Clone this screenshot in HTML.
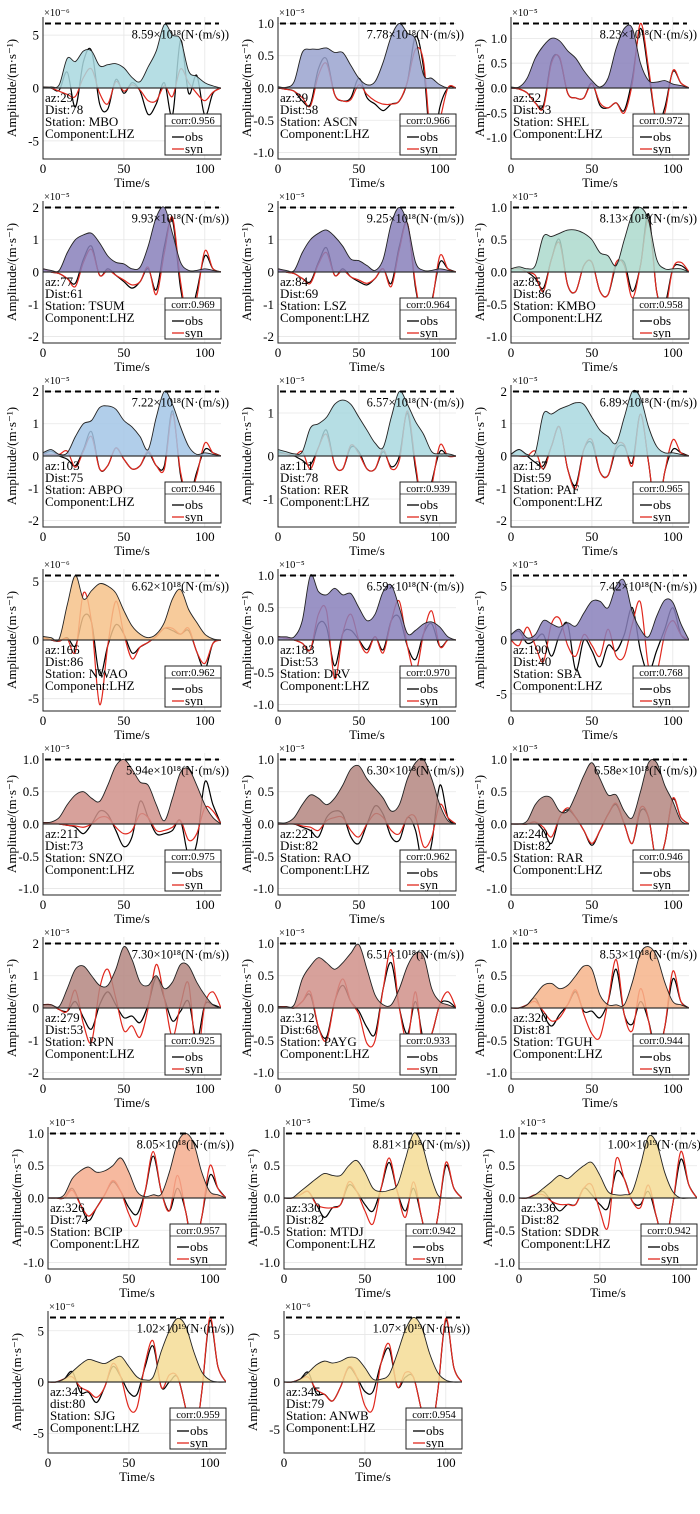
<!DOCTYPE html>
<html><head><meta charset="utf-8"><title>Waveform fits</title>
<style>
html,body{margin:0;padding:0;background:#fff;}
svg{display:block;font-family:"Liberation Serif",serif;}
</style></head>
<body>
<svg id="fig" width="700" height="1514" viewBox="0 0 700 1514" xmlns="http://www.w3.org/2000/svg"></svg>
<script>
const times=[0,5,10,15,20,25,30,35,40,45,50,55,60,65,70,75,80,85,90,95,100,105,110];
const stations=["MBO","ASCN","SHEL","TSUM","LSZ","KMBO","ABPO","RER","PAF","NWAO","DRV","SBA","SNZO","RAO","RAR","RPN","PAYG","TGUH","BCIP","MTDJ","SDDR","SJG","ANWB"];
const azimuths=[29,39,52,77,84,85,103,111,137,166,183,190,211,221,240,279,312,320,326,330,336,341,345];
const distances=[78,58,53,61,69,86,75,78,59,86,53,40,73,82,82,53,68,81,74,82,82,80,79];
const corrs=["0.956","0.966","0.972","0.969","0.964","0.958","0.946","0.939","0.965","0.962","0.970","0.768","0.975","0.962","0.946","0.925","0.933","0.944","0.957","0.942","0.942","0.959","0.954"];
const exponents=[-6,-5,-5,-5,-5,-5,-5,-5,-5,-6,-5,-5,-5,-5,-5,-5,-5,-5,-5,-5,-5,-6,-6];
const peaks=[6.1,1.0,1.3,2.0,2.0,1.0,2.0,1.5,2.0,5.5,1.0,6.0,1.0,1.0,1.0,2.0,1.0,1.0,1.0,1.0,1.0,6.3,6.8];
const momentMant=["8.59","7.78","8.23","9.93","9.25","8.13","7.22","6.57","6.89","6.62","6.59","7.42","5.94e","6.30","6.58e","7.30","6.51","8.53","8.05","8.81","1.00","1.02","1.07"];
const momentExp=[18,18,18,18,18,18,18,18,18,18,18,18,18,18,18,18,18,18,18,18,19,19,19];
const tickSets=[[-5,0,5],[-1,-0.5,0,0.5,1],[-1,-0.5,0,0.5,1],[-2,-1,0,1,2],[-2,-1,0,1,2],[-1,-0.5,0,0.5,1],[-2,-1,0,1,2],[-1,0,1],[-2,-1,0,1,2],[-5,0,5],[-1,-0.5,0,0.5,1],[-5,0,5],[-1,-0.5,0,0.5,1],[-1,-0.5,0,0.5,1],[-1,-0.5,0,0.5,1],[-2,-1,0,1,2],[-1,-0.5,0,0.5,1],[-1,-0.5,0,0.5,1],[-1,-0.5,0,0.5,1],[-1,-0.5,0,0.5,1],[-1,-0.5,0,0.5,1],[-5,0,5],[-5,0,5]];
const tickDecimals=[0,1,1,0,0,1,0,0,0,0,1,0,1,1,1,0,1,1,1,1,1,0,0];
const fillColors=["#a9d8df","#9aa3cf","#8880bb","#8880bb","#8880bb","#acd9cc","#a3c6e6","#a9d8df","#a9d8df","#f6c28a","#8880bb","#8880bb","#d0908a","#b48680","#b48680","#b48680","#d0908a","#f6b48b","#f5ad8e","#f5dc95","#f5dc95","#f5dc95","#f5dc95"];
const distLabel=["Dist","Dist","Dist","Dist","Dist","Dist","Dist","Dist","Dist","Dist","Dist","Dist","Dist","Dist","Dist","Dist","Dist","Dist","Dist","Dist","Dist","dist","Dist"];

const env=[
[0.1,0.1,0.3,2.8,2.5,3.5,3.5,2.1,2.2,2.3,1.9,1.0,0.6,2.0,3.5,6.0,5.0,4.6,1.6,1.1,0.5,0.2,0],
[0.02,0.01,0.1,0.55,0.6,0.6,0.62,0.55,0.55,0.35,0.15,0.05,0.1,0.4,0.8,1.0,0.85,0.75,0.2,0.15,0.05,0,0],
[0.02,0.02,0.2,0.6,0.85,1.0,0.95,0.75,0.6,0.35,0.15,0.02,0.2,0.8,1.2,1.2,0.5,0.15,0.12,0.15,0.08,0.05,0],
[0.1,0.05,0.05,0.6,1.0,1.15,1.2,0.9,0.5,0.3,0.25,0.1,0.15,0.8,1.7,2.0,1.2,0.3,0.05,0.05,0.1,0.05,0],
[0.1,0.05,0.05,0.6,1.0,1.2,1.3,1.1,0.8,0.4,0.35,0.2,0.05,0.4,1.5,2.0,1.5,0.3,0.05,0.05,0.1,0.05,0],
[0.05,0.08,0.05,0.1,0.55,0.55,0.6,0.65,0.65,0.6,0.5,0.3,0.25,0.1,0.5,0.9,1.0,0.8,0.2,0.05,0.05,0.05,0],
[0.1,0.2,0.05,0.1,0.6,1.0,1.1,1.5,1.55,1.45,1.1,0.9,0.6,0.2,1.2,2.0,1.6,0.9,0.3,0.05,0.1,0.05,0],
[0.15,0.1,0.05,0.1,0.65,0.75,0.9,1.2,1.3,1.2,0.9,0.6,0.3,0.2,0.9,1.5,1.2,0.8,0.5,0.1,0.05,0.05,0],
[0.05,0.2,0.05,0.1,1.3,1.3,1.45,1.55,1.65,1.6,1.2,0.8,0.6,0.4,1.2,2.0,1.8,0.9,0.3,0.1,0.1,0.05,0],
[0.3,0.2,0.1,3.0,5.5,3.5,4.2,4.8,4.6,4.0,2.5,1.2,0.5,0.2,0.5,1.5,3.5,4.3,2.6,1.5,0.5,0.1,0],
[0.05,0.05,0.05,0.3,1.0,0.75,0.7,0.8,0.7,0.72,0.5,0.3,0.4,0.75,0.85,0.5,0.1,0.15,0.25,0.28,0.2,0.05,0],
[0.5,1.0,0.2,0.5,1.8,1.5,1.2,1.6,1.3,2.5,3.6,3.6,3.0,5.0,5.5,2.6,1.0,0.3,2.2,3.7,3.5,1.5,0],
[0.02,0.03,0.1,0.3,0.45,0.5,0.4,0.35,0.6,0.9,1.0,0.85,0.65,0.6,0.3,0.05,0.4,0.8,0.85,0.6,0.3,0.1,0],
[0.02,0.02,0.1,0.3,0.45,0.4,0.3,0.4,0.6,0.85,0.9,0.7,0.55,0.4,0.2,0.3,0.7,0.95,1.0,0.7,0.3,0.05,0],
[0,0,0.05,0.3,0.42,0.4,0.2,0.2,0.45,0.75,0.95,0.7,0.45,0.45,0.2,0.1,0.5,0.95,0.95,0.6,0.35,0.05,0],
[0.1,0.1,0.05,0.6,1.2,1.3,1.0,0.7,0.7,1.2,1.9,1.5,0.8,0.7,1.0,0.6,0.8,1.35,1.3,0.8,0.4,0.1,0],
[0.02,0.02,0.05,0.45,0.65,0.78,0.7,0.6,0.7,0.85,0.98,0.6,0.2,0.05,0.05,0.3,0.65,0.85,0.8,0.3,0.1,0.05,0],
[0,0,0.05,0.2,0.35,0.38,0.3,0.35,0.5,0.65,0.6,0.2,0.05,0.05,0.05,0.4,0.85,0.95,0.8,0.4,0.1,0.05,0],
[0,0,0.05,0.3,0.42,0.48,0.4,0.42,0.5,0.62,0.4,0.1,0.02,0.05,0.06,0.4,0.85,1.0,0.85,0.4,0.1,0.05,0],
[0,0,0.1,0.2,0.3,0.38,0.35,0.35,0.5,0.58,0.4,0.15,0.1,0.12,0.2,0.6,1.0,0.85,0.4,0.05,0,0,0],
[0,0,0.05,0.15,0.25,0.35,0.3,0.4,0.5,0.55,0.35,0.1,0.05,0.05,0.1,0.5,0.95,0.85,0.4,0.1,0,0,0],
[0,0,0.3,1.0,1.7,2.2,2.0,1.8,2.2,2.5,1.5,0.5,0.2,0.5,3.0,5.0,6.2,5.5,3.0,1.0,0.2,0,0],
[0,0,0.3,1.0,1.8,2.2,2.0,2.2,2.6,2.5,1.5,0.3,0.3,0.8,3.0,5.5,6.8,5.8,3.0,1.0,0.2,0,0]
];
const obs=[
[0.1,0,-0.2,1.5,-1.8,2.5,3.5,-1.5,-2.0,0.8,-0.5,0.5,-0.3,-2.5,-1.5,0.5,-2.6,4.5,-0.5,1.2,-2.6,-0.5,0],
[0,-0.02,-0.05,-0.2,-0.25,0.3,0.45,-0.1,-0.2,-0.15,0.15,-0.15,-0.25,-0.35,-0.25,-0.2,0.1,0.8,0.3,-1.0,-0.3,0,0],
[0,-0.02,-0.1,-0.3,-0.35,0.55,0.6,-0.1,-0.2,-0.2,0.1,-0.35,-0.4,-0.3,-0.45,0.2,1.2,0.3,-0.7,-0.4,0.33,0.1,0],
[0.1,0,-0.05,-0.2,-0.35,0.4,0.8,-0.1,0.1,-0.1,-0.3,-0.5,-0.3,0.1,-0.55,0.8,1.6,-0.5,-1.5,-0.6,0.5,0.1,0],
[0.1,0,-0.05,-0.2,-0.3,0.3,0.75,-0.1,0.1,-0.15,-0.3,-0.4,-0.2,0.1,-0.35,0.8,1.5,-0.5,-1.5,-0.9,0.3,0.1,0],
[0.05,0.05,0,-0.1,-0.25,0.2,0.5,-0.2,-0.3,0.1,0.15,-0.3,-0.35,0.1,0.15,-0.3,0.1,0.9,-0.3,-0.5,0.05,0.1,0],
[0.05,0.15,0,-0.1,-0.3,0.2,0.75,-0.4,-0.3,0.25,-0.1,-0.4,-0.3,0.1,-0.3,-0.3,1.4,-0.6,-1.3,-0.5,0.2,0.1,0],
[0.1,0.05,0,-0.1,-0.2,0.2,0.6,-0.2,-0.3,0.2,0.1,-0.3,-0.3,0.1,-0.25,0,1.0,-0.3,-1.3,-0.6,0.1,0,0],
[0.05,0.2,0,-0.2,-0.3,0.3,0.9,-0.4,-0.9,0.2,0.4,-0.5,-0.6,0.2,0.3,-0.2,1.3,-0.2,-1.9,-0.5,0.2,0.1,0],
[0.3,0,-0.1,0.2,-0.5,2.0,1.5,-3.0,-0.5,1.3,0.5,-1.1,-0.6,-0.2,0.3,1.0,0.8,0.5,0.8,-1.0,-2.5,-0.3,0],
[0.05,0.03,0,-0.05,-0.15,0.25,0.2,-0.4,0.1,0.15,0,-0.15,0.05,-0.15,0.3,0.35,-0.1,-0.3,0.1,0.25,-0.1,0,0],
[0.5,0.8,-0.3,0,0.5,-1.5,0.5,1.5,-2.8,0,-1.0,-2.5,-0.5,-1.0,0.5,3.0,-1.0,-3.0,-1.0,1.0,3.0,0.5,0],
[0.02,0.02,0,-0.02,-0.05,-0.15,0,0.2,0.15,-0.1,-0.35,-0.2,0.35,0.1,-0.15,-0.15,-0.1,0.05,-0.5,-0.3,0.65,0.3,0],
[0,0,0,-0.05,-0.1,-0.2,0.1,0.2,0.15,-0.2,-0.3,0,0.28,0.15,-0.2,-0.25,0.1,-0.1,-0.7,-0.3,0.6,0.1,0],
[0,0,0,0.03,-0.1,-0.3,0.1,0.22,0.1,-0.1,-0.33,-0.1,0.15,0.3,0,-0.3,0.2,0.1,-0.6,-0.3,0.38,0.1,0],
[0.1,0.1,-0.05,-0.1,0.2,-0.3,-0.65,0.1,0.5,0.1,-0.3,-0.25,-0.45,0.1,0.95,0.3,-0.4,-0.1,0.2,-1.0,0.1,0.1,0],
[0.02,0.02,0,0.1,0.2,-0.3,-0.45,0.1,0.35,0.1,-0.05,-0.3,-0.4,0.3,0.7,0,-0.4,0.1,-0.5,-0.4,0.05,0.1,0],
[0,0,0.05,0.15,-0.1,-0.28,-0.1,0.05,0.25,-0.05,-0.05,-0.15,0.1,0.6,-0.1,-0.25,0.1,-0.2,-0.7,-0.3,0.45,0.1,0],
[0,0,0,0.15,-0.1,-0.35,-0.15,0.05,0.25,0.1,-0.15,-0.25,0.1,0.65,0.1,-0.2,0.15,-0.2,-0.8,-0.3,0.35,0.15,0],
[0,0,0.05,0.1,-0.1,-0.3,-0.15,-0.1,0.2,0.1,-0.1,-0.2,0.15,0.55,0.1,-0.2,0.15,-0.3,-0.8,-0.3,0.5,0.15,0],
[0,0,0.05,0.1,-0.05,-0.2,-0.1,-0.1,0.15,0.05,-0.1,-0.15,0.4,0.3,-0.05,-0.1,0.1,-0.3,-0.7,-0.1,0.6,0.2,0],
[0,0,0.3,1.0,-1.0,-1.0,-2.0,-0.5,1.5,0.5,-1.0,-1.2,1.5,3.5,-0.5,0,0.5,-2.5,-6,-1,6,1.5,0],
[0,0,0.3,1.0,-1.2,-1.3,-2.0,-0.5,1.5,0.5,-1.0,-1.0,2.0,3.5,-0.5,0.5,0.5,-3,-6,-1,6.5,1.5,0]
];
const syn=[
[0.1,0,-0.3,-0.6,-0.8,1.0,1.8,-0.5,-1.5,0.6,-0.3,0.3,-0.2,-1.2,-1.2,0.2,-0.8,1.8,0.5,-0.5,-1.2,-0.4,0],
[0,-0.02,-0.05,-0.15,-0.28,0.2,0.38,-0.1,-0.2,-0.18,0.05,-0.1,-0.2,-0.25,-0.25,-0.2,0.1,0.6,0.4,-0.9,-0.5,0,0],
[0,-0.02,-0.1,-0.3,-0.4,0.5,0.62,-0.1,-0.2,-0.2,0.08,-0.3,-0.4,-0.3,-0.5,0.1,1.3,0.4,-0.7,-0.5,0.35,0.1,0],
[0.1,0,-0.05,-0.2,-0.45,0.3,0.7,-0.1,0.05,-0.1,-0.25,-0.4,-0.3,0.15,-0.7,0.6,1.7,-0.3,-1.6,-0.8,0.65,0.1,0],
[0.1,0,-0.05,-0.2,-0.35,0.25,0.6,-0.1,0.05,-0.15,-0.25,-0.35,-0.2,0.1,-0.45,0.7,1.5,-0.4,-1.6,-1.0,0.5,0.1,0],
[0.05,0.05,0,-0.05,-0.3,0.2,0.45,-0.2,-0.3,0.1,0.15,-0.3,-0.35,0.15,0.1,-0.4,0.1,0.8,-0.3,-0.6,0.05,0.15,0],
[0.05,0.05,0.05,0.15,-0.35,0.15,0.6,-0.4,-0.3,0.25,-0.1,-0.4,-0.3,0.15,-0.3,-0.4,1.3,-0.5,-1.3,-0.6,0.4,0.1,0],
[0.05,0.05,0,0.1,-0.3,0.2,0.5,-0.2,-0.3,0.25,0.05,-0.3,-0.3,0.15,-0.3,-0.1,1.05,-0.2,-1.3,-0.7,0.25,0,0],
[0.05,0,0,0.15,-0.4,0.3,0.9,-0.4,-1.0,0.2,0.5,-0.5,-0.6,0.3,0.35,-0.3,1.3,-0.2,-1.9,-0.5,0.5,0.1,0],
[0.2,0,-0.1,0.1,-1.0,4.0,1.5,-5.5,-0.5,3.3,0.5,-1.6,-0.6,-0.2,0.3,1.0,1.0,0.5,1.0,-1.0,-2.0,-0.3,0],
[0.05,0.03,0,-0.05,-0.15,0.4,0.45,-0.6,0.1,0.4,0,-0.2,0.05,-0.2,0.3,0.6,-0.1,-0.5,0.1,0.45,-0.1,0,0],
[0,-0.5,1.2,-0.5,-2,1.5,2.0,-0.5,-1.5,0.5,-0.5,-1.5,1.0,-1.5,-1.5,1.5,3.5,-2.5,-3,0.5,1.8,0.5,0],
[0.02,0.02,0,-0.02,-0.03,-0.05,0,0.1,0.1,-0.05,-0.15,-0.1,0.15,0.1,-0.1,-0.1,-0.05,0.05,-0.25,-0.15,0.25,0.2,0],
[0,0,0,-0.03,-0.05,-0.1,0.05,0.1,0.1,-0.1,-0.2,0,0.16,0.1,-0.1,-0.15,0.1,0.1,-0.35,-0.2,0.3,0.1,0],
[0,0,0,0.03,-0.05,-0.2,0.1,0.25,0.1,-0.1,-0.3,-0.1,0.15,0.32,0,-0.3,0.25,0.1,-0.6,-0.3,0.4,0.1,0],
[0.1,0.1,-0.05,-0.1,0.55,-0.5,-1.05,0.6,1.2,0.3,-0.7,-0.55,-0.9,0,1.35,0.3,-0.9,0.1,0.75,-1.5,0.1,0.5,0],
[0.02,0.02,0,0.1,0.25,-0.3,-0.5,0.1,0.45,0.1,-0.1,-0.55,-0.5,0.3,0.9,0,-0.5,0.25,-0.7,-0.4,0.05,0.25,0],
[0,0,0.05,0.1,-0.05,-0.2,-0.15,0.05,0.28,-0.1,-0.4,-0.45,0.1,0.75,-0.1,-0.35,0.3,-0.2,-0.8,-0.3,0.57,0.1,0],
[0,0,0,0.12,-0.1,-0.28,-0.15,0.05,0.27,0.1,-0.25,-0.43,0.1,0.72,0.1,-0.2,0.35,-0.2,-0.8,-0.3,0.5,0.15,0],
[0,0,0.05,0.1,-0.1,-0.15,-0.15,-0.1,0.25,0.1,-0.2,-0.4,0.15,0.62,0.1,-0.3,0.25,-0.3,-0.8,-0.3,0.55,0.15,0],
[0,0,0.05,0.05,-0.05,-0.1,-0.1,-0.1,0.15,0.2,-0.2,-0.45,0.6,0.3,-0.05,-0.15,0.2,-0.3,-0.7,-0.1,0.72,0.2,0],
[0,0,0.3,0.5,-0.5,-0.9,-1.5,-0.5,1.8,0.5,-2.5,-2.5,1.8,4.0,-0.5,0.7,0.5,-2.5,-6,-1,6.3,1.5,0],
[0,0,0.3,0.5,-0.8,-1.3,-2.0,-0.5,1.6,0.5,-2.5,-2.8,2.0,4.0,-0.5,1.0,0.5,-3,-6,-1,6.7,1.5,0]
];

const NS="http://www.w3.org/2000/svg";
const svg=document.getElementById('fig');
function mk(tag,attrs,parent){const e=document.createElementNS(NS,tag);for(const k in attrs)e.setAttribute(k,attrs[k]);(parent||svg).appendChild(e);return e;}
function smoothPath(pts){
  let d="M"+pts[0][0].toFixed(2)+","+pts[0][1].toFixed(2);
  for(let i=0;i<pts.length-1;i++){
    const p0=pts[Math.max(0,i-1)],p1=pts[i],p2=pts[i+1],p3=pts[Math.min(pts.length-1,i+2)];
    const c1=[p1[0]+(p2[0]-p0[0])/6,p1[1]+(p2[1]-p0[1])/6];
    const c2=[p2[0]-(p3[0]-p1[0])/6,p2[1]-(p3[1]-p1[1])/6];
    d+=" C"+c1[0].toFixed(2)+","+c1[1].toFixed(2)+" "+c2[0].toFixed(2)+","+c2[1].toFixed(2)+" "+p2[0].toFixed(2)+","+p2[1].toFixed(2);
  }
  return d;
}
const sup={"0":"⁰","1":"¹","2":"²","3":"³","4":"⁴","5":"⁵","6":"⁶","7":"⁷","8":"⁸","9":"⁹","-":"⁻"};
function toSup(n){return String(n).split('').map(c=>sup[c]).join('');}

for(let i=0;i<stations.length;i++){
  const row=Math.floor(i/3),col=i%3;
  let zero,left;
  if(row<6){zero=88+184*row;left=[43,278,511][col];}
  else if(row===6){zero=1198;left=[48,284,519][col];}
  else {zero=1382;left=[48,284,519][col];}
  const W=178,H=71,top=zero-H,bottom=zero+H;
  const L=peaks[i]*1.1;
  const xs=t=>left+t*W/110;
  const ys=v=>zero-v*H/L;
  const g=mk('g',{});
  
  
  const cp=mk('clipPath',{id:'clip'+i},g);
  mk('rect',{x:left,y:top,width:W,height:H*2},cp);
  [0,50,100].forEach(t=>{const l=mk('line',{x1:xs(t),x2:xs(t),y1:top,y2:bottom,stroke:'#e6e6e6','stroke-width':0.8},g);
    });
  tickSets[i].forEach(v=>{const l=mk('line',{x1:left,x2:left+W,y1:ys(v),y2:ys(v),stroke:'#e6e6e6','stroke-width':0.8},g);
    });
  const plot=mk('g',{'clip-path':'url(#clip'+i+')'},g);
  const obsPts=times.map((t,k)=>[xs(t),ys(obs[i][k])]);
  const synPts=times.map((t,k)=>[xs(t),ys(syn[i][k])]);
  const envPts=times.map((t,k)=>[xs(t),ys(env[i][k])]);
  const po=mk('path',{d:smoothPath(obsPts),fill:'none',stroke:'#000','stroke-width':1.2},plot);
  
  const ps=mk('path',{d:smoothPath(synPts),fill:'none',stroke:'#e0281e','stroke-width':1.2},plot);
  
  const ed=smoothPath(envPts);
  const pf=mk('path',{d:ed+" L"+xs(110)+","+zero+" L"+xs(0)+","+zero+" Z",fill:fillColors[i],'fill-opacity':0.85,stroke:'none'},plot);
  
  const pe=mk('path',{d:ed,fill:'none',stroke:'#222','stroke-width':0.9},plot);
  
  const zl=mk('line',{x1:left,x2:left+W,y1:zero,y2:zero,stroke:'#333','stroke-width':1.3},g);
  
  const dl=mk('line',{x1:left+2,x2:left+W-2,y1:ys(peaks[i]),y2:ys(peaks[i]),stroke:'#000','stroke-width':2,'stroke-dasharray':'6,4'},g);
  
  const ax=mk('path',{d:`M${left},${top} L${left},${bottom} L${left+W},${bottom}`,fill:'none',stroke:'#222','stroke-width':1},g);
  
  tickSets[i].forEach(v=>{
    const tx=mk('text',{x:left-4,y:ys(v)+4.5,'text-anchor':'end','font-size':13},g);
    tx.textContent=(v<0?'-':'')+Math.abs(v).toFixed(tickDecimals[i]);
    
  });
  [0,50,100].forEach(t=>{
    const tx=mk('text',{x:xs(t),y:bottom+14,'text-anchor':'middle','font-size':13},g);
    tx.textContent=String(t);
    
  });
  const xl=mk('text',{x:left+W/2,y:bottom+28,'text-anchor':'middle','font-size':13},g);
  xl.textContent='Time/s';
  
  const yl=mk('text',{x:0,y:0,'text-anchor':'middle','font-size':13,transform:`translate(${left-27},${zero}) rotate(-90)`},g);
  yl.textContent='Amplitude/(m·s⁻¹)';
  
  const ex=mk('text',{x:left+1,y:top-1,'font-size':10.5},g);
  ex.textContent='×10'+toSup(exponents[i]);
  
  const mo=mk('text',{x:left+W+8,y:ys(peaks[i])+15,'text-anchor':'end','font-size':12.5},g);
  mo.textContent=momentMant[i]+'×10'+toSup(momentExp[i])+'(N·(m/s))';
  
  const info=['az:'+azimuths[i],distLabel[i]+':'+distances[i],'Station: '+stations[i],'Component:LHZ'];
  const infoNames=['azimuth-label','distance-label','station-label','component-label'];
  [14,26,38,50].forEach((dy,k)=>{
    const tx=mk('text',{x:left+2,y:zero+dy,'font-size':13},g);
    tx.textContent=info[k];
    
  });
  const lg=mk('g',{},g);
  
  mk('rect',{x:left+122,y:zero+26,width:56,height:41,fill:'#fff',stroke:'#222','stroke-width':1},lg);
  mk('line',{x1:left+122,x2:left+178,y1:zero+38,y2:zero+38,stroke:'#222','stroke-width':0.8},lg);
  const ct=mk('text',{x:left+150,y:zero+36,'text-anchor':'middle','font-size':10.5},lg);
  ct.textContent='corr:'+corrs[i];
  
  mk('line',{x1:left+129,x2:left+141,y1:zero+49,y2:zero+49,stroke:'#000','stroke-width':1.3},lg);
  mk('line',{x1:left+129,x2:left+141,y1:zero+61,y2:zero+61,stroke:'#e0281e','stroke-width':1.3},lg);
  const t1=mk('text',{x:left+142,y:zero+53,'font-size':13},lg);t1.textContent='obs';
  
  const t2=mk('text',{x:left+142,y:zero+65,'font-size':13},lg);t2.textContent='syn';
  
}
</script>
</body></html>
